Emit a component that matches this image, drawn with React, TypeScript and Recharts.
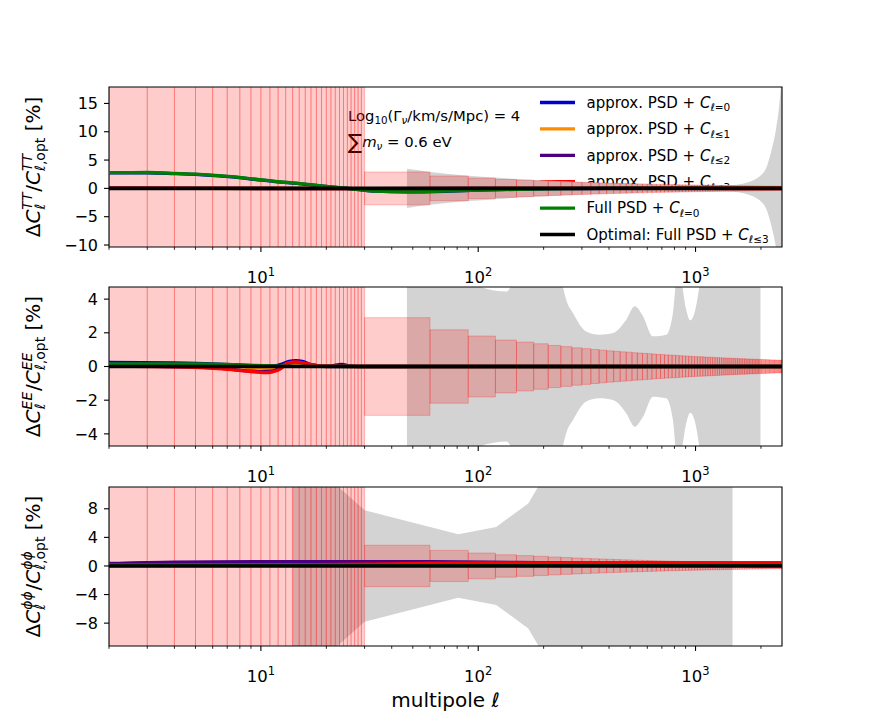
import React from 'react';
import { ComposedChart, Line, Area, XAxis, YAxis, ReferenceArea } from 'recharts';

const FONT = "'DejaVu Sans', sans-serif";
const W = 869;
const H = 726;

// ---------- axis data ----------
const X_DOMAIN: [number, number] = [2, 2500];
const majorTicks = [10, 100, 1000];
const minorTicks = [2, 3, 4, 5, 6, 7, 8, 9, 20, 30, 40, 50, 60, 70, 80, 90, 200, 300, 400, 500, 600, 700, 800, 900, 2000];
const xTicks = [...minorTicks, ...majorTicks].sort((a, b) => a - b);

// ---------- error boxes ----------
const lowEll = [2, 3, 4, 5, 6, 7, 8, 9, 10, 11, 12, 13, 14, 15, 16, 17, 18, 19, 20, 21, 22, 23, 24, 25, 26, 27, 28, 29];
const LOW_HALF = 100; // off-chart error for each low multipole
const binStart = 30;
const binWidth = 30;
const binHalf = [
  2.9, 2.18, 1.81, 1.57, 1.45, 1.35, 1.25, 1.18, 1.11, 1.06,
  1.01, 0.97, 0.93, 0.9, 0.87, 0.85, 0.82, 0.8, 0.78, 0.76,
  0.74, 0.72, 0.71, 0.69, 0.68, 0.67, 0.66, 0.64, 0.63, 0.62,
  0.61, 0.6, 0.59, 0.58, 0.58, 0.57, 0.56, 0.55, 0.55, 0.54,
  0.53, 0.53, 0.52, 0.51, 0.51, 0.5, 0.5, 0.49, 0.49, 0.48,
  0.48, 0.47, 0.47, 0.46, 0.46, 0.46, 0.45, 0.45, 0.44, 0.44,
  0.44, 0.43, 0.43, 0.43, 0.42, 0.42, 0.42, 0.41, 0.41, 0.41,
  0.4, 0.4, 0.4, 0.39, 0.39, 0.39, 0.39, 0.38, 0.38, 0.38,
  0.38, 0.38, 0.37,
];

// ---------- grey noise bands [ell, half-width %] ----------
const ttNoise: [number, number][] = [
  [47, 3.45], [60, 2.9], [90, 2.25], [120, 1.9], [150, 1.65], [200, 1.38], [300, 1.1], [400, 0.92],
  [500, 0.8], [700, 0.66], [1000, 0.56], [1300, 0.52], [1500, 0.6], [1700, 0.95], [1900, 1.7],
  [2000, 2.3], [2110, 3.5], [2230, 6.5], [2350, 10.6], [2430, 14.8], [2480, 19], [2520, 24],
];
const eeNoise: [number, number][] = [
  [47, 30], [80, 12], [100, 4.78], [135, 4.45], [142, 4.78], [160, 6], [190, 9], [225, 8], [243, 5],
  [254, 3.97], [273, 3.18], [314, 2.08], [362, 1.89], [417, 1.99], [480, 2.78], [525, 3.57],
  [573, 2.98], [637, 1.79], [733, 1.89], [787, 3.18], [815, 5.2], [837, 6], [859, 5.2], [906, 3.37],
  [946, 2.74], [989, 3.18], [1051, 5.2], [1120, 9], [1990, 10],
];
const ppNoise: [number, number][] = [
  [14, 13.5], [22.3, 11.3], [30, 7.8], [81, 4.45], [121, 5.46], [170, 8.74], [200, 12.4], [1480, 20],
];

// ---------- curves [ell, Delta %] ----------
const ttBlue: [number, number][] = [[2, 2.72], [3, 2.76], [4, 2.62], [5, 2.47], [6.4, 2.2], [8.7, 1.73], [12, 1.13], [16, 0.72], [21, 0.25], [28, -0.22], [33.5, -0.5], [47, -0.62], [70, -0.52], [100, -0.32], [150, -0.16], [250, -0.06], [400, 0], [2500, 0]];
const ttOrange: [number, number][] = [[2, 0.05], [30, -0.05], [300, 0], [1000, 0.05], [2500, 0.1]];
const ttPurple: [number, number][] = [[2, 0.03], [30, -0.04], [300, 0], [2500, 0]];
const ttRed: [number, number][] = [[2, 0.02], [30, -0.03], [300, 0], [1000, 0.03], [2500, 0.08]];
const ttGreen: [number, number][] = [[2, 2.77], [3, 2.8], [4, 2.66], [5, 2.5], [6.4, 2.24], [8.7, 1.77], [12, 1.17], [16, 0.76], [21, 0.28], [28, -0.18], [33.5, -0.48], [47, -0.6], [70, -0.5], [100, -0.3], [150, -0.15], [250, -0.05], [400, 0], [2500, 0]];

const eeBlue: [number, number][] = [[2, 0.24], [4, 0.21], [6, 0.16], [8, 0.09], [10, 0.04], [11.5, 0.04], [12.5, 0.15], [13.5, 0.3], [14.5, 0.35], [15.5, 0.3], [17, 0.12], [19, 0.03], [21, 0.04], [23.5, 0.12], [26, 0.03], [30, 0], [2500, 0]];
const eeOrange: [number, number][] = [[2, 0.1], [8, 0], [10, -0.15], [12, -0.05], [14, 0.2], [17, 0.05], [30, 0], [2500, 0]];
const eePurple: [number, number][] = [[2, 0.05], [6, -0.08], [10, -0.3], [11.2, -0.28], [12.3, -0.1], [13.5, 0.2], [14.5, 0.27], [17, 0.1], [20, 0], [2500, 0]];
const eeRed: [number, number][] = [[2, 0.02], [4.6, -0.04], [6.6, -0.14], [8.4, -0.26], [9.7, -0.33], [10.5, -0.36], [11.2, -0.33], [12.3, -0.14], [13.1, 0.17], [14.3, 0.27], [16.5, 0.16], [19, 0.02], [30, 0], [2500, 0]];
const eeGreen: [number, number][] = [[2, 0.16], [5, 0.15], [8, 0.1], [11, 0.04], [15, 0.01], [30, 0], [2500, 0]];

const ppBlue: [number, number][] = [[2, 0.3], [3, 0.42], [5, 0.48], [10, 0.5], [30, 0.5], [60, 0.5], [100, 0.46], [200, 0.4], [500, 0.38], [2500, 0.38]];
const ppOrange: [number, number][] = [[2, 0.1], [10, 0.15], [30, 0.28], [60, 0.38], [100, 0.42], [2500, 0.42]];
const ppPurple: [number, number][] = [[2, 0.35], [4, 0.55], [10, 0.6], [60, 0.6], [150, 0.5], [300, 0.42], [2500, 0.4]];
const ppRed: [number, number][] = [[2, 0.05], [10, 0.1], [30, 0.25], [60, 0.38], [100, 0.42], [2500, 0.42]];
const ppGreen: [number, number][] = [[2, 0.15], [10, 0.15], [100, 0.12], [2500, 0.08]];

const optimal: [number, number][] = [[2, 0], [2500, 0]];

const COLORS = {
  blue: '#0000cd',
  orange: '#ff8c00',
  purple: '#4b0082',
  red: '#ff0000',
  green: '#008000',
  black: '#000000',
};

const legendItems = [
  { color: COLORS.blue, prefix: 'approx. PSD + ', sub: '=0' },
  { color: COLORS.orange, prefix: 'approx. PSD + ', sub: '\u22641' },
  { color: COLORS.purple, prefix: 'approx. PSD + ', sub: '\u22642' },
  { color: COLORS.red, prefix: 'approx. PSD + ', sub: '\u22643' },
  { color: COLORS.green, prefix: 'Full PSD + ', sub: '=0' },
  { color: COLORS.black, prefix: 'Optimal: Full PSD + ', sub: '\u22643' },
];

type Cfg = {
  plotTop: number;
  plotBottom: number;
  domain: [number, number];
  ticks: number[];
  noise: [number, number][];
  noiseType: 'monotone' | 'linear';
  lines: { color: string; pts: [number, number][]; w: number }[];
};

const LW = 3.3;
const BW = 3.6;

const panels: Cfg[] = [
  {
    plotTop: 87, plotBottom: 247, domain: [-10.35, 17.9], ticks: [-10, -5, 0, 5, 10, 15],
    noise: ttNoise, noiseType: 'monotone',
    lines: [
      { color: COLORS.blue, pts: ttBlue, w: LW },
      { color: COLORS.orange, pts: ttOrange, w: LW },
      { color: COLORS.purple, pts: ttPurple, w: LW },
      { color: COLORS.red, pts: ttRed, w: LW },
      { color: COLORS.green, pts: ttGreen, w: LW },
      { color: COLORS.black, pts: optimal, w: BW },
    ],
  },
  {
    plotTop: 287, plotBottom: 446, domain: [-4.72, 4.72], ticks: [-4, -2, 0, 2, 4],
    noise: eeNoise, noiseType: 'monotone',
    lines: [
      { color: COLORS.blue, pts: eeBlue, w: LW },
      { color: COLORS.orange, pts: eeOrange, w: LW },
      { color: COLORS.purple, pts: eePurple, w: LW },
      { color: COLORS.red, pts: eeRed, w: LW },
      { color: COLORS.green, pts: eeGreen, w: LW },
      { color: COLORS.black, pts: optimal, w: BW },
    ],
  },
  {
    plotTop: 487, plotBottom: 646, domain: [-11.2, 11.05], ticks: [-8, -4, 0, 4, 8],
    noise: ppNoise, noiseType: 'linear',
    lines: [
      { color: COLORS.blue, pts: ppBlue, w: LW },
      { color: COLORS.orange, pts: ppOrange, w: LW },
      { color: COLORS.purple, pts: ppPurple, w: LW },
      { color: COLORS.red, pts: ppRed, w: LW },
      { color: COLORS.green, pts: ppGreen, w: LW },
      { color: COLORS.black, pts: optimal, w: BW },
    ],
  },
];

const fmt = (v: number) => (v < 0 ? '\u2212' + Math.abs(v) : String(v));

const XTick = (props: any) => {
  const { x, y, payload } = props;
  const v = payload.value;
  const isMajor = majorTicks.indexOf(v) >= 0;
  return (
    <g>
      <line x1={x} x2={x} y1={y} y2={y + (isMajor ? 4.9 : 2.8)} stroke="#000" strokeWidth={isMajor ? 1.1 : 0.85} />
      {isMajor && (
        <text x={x} y={y + 35.5} textAnchor="middle" fontFamily={FONT} fontSize={16.5} fill="#000">
          10<tspan fontSize={11.5} dy={-7}>{Math.round(Math.log10(v))}</tspan>
        </text>
      )}
    </g>
  );
};

function Panel({ cfg }: { cfg: Cfg }) {
  const boxes: { x1: number; x2: number; h: number }[] = [];
  lowEll.forEach((l) => boxes.push({ x1: l, x2: l + 1, h: LOW_HALF }));
  binHalf.forEach((h, i) => boxes.push({ x1: binStart + i * binWidth, x2: binStart + (i + 1) * binWidth, h }));
  const noiseData = cfg.noise.map(([l, s]) => ({ l, s }));
  return (
    <div style={{ position: 'absolute', left: 0, top: 0 }}>
      <ComposedChart width={W} height={H} margin={{ top: cfg.plotTop, right: 87, bottom: 0, left: 0 }}>
        <XAxis
          dataKey="l" type="number" scale="log" domain={X_DOMAIN} allowDataOverflow
          ticks={xTicks} interval={0} tick={(p: any) => <XTick {...p} />}
          tickLine={false} axisLine={false} tickSize={0} tickMargin={0}
          height={H - cfg.plotBottom}
        />
        <YAxis
          type="number" domain={cfg.domain} allowDataOverflow ticks={cfg.ticks} interval={0}
          width={109} axisLine={false} tickLine={{ stroke: '#000', strokeWidth: 1.1 }}
          tickSize={5} tickMargin={6} tick={{ fill: '#000', fontSize: 16, fontFamily: FONT }}
          tickFormatter={fmt}
        />
        <Area
          data={noiseData} dataKey={(d: any) => [-d.s, d.s]} type={cfg.noiseType}
          fill="#d3d3d3" fillOpacity={1} stroke="none" isAnimationActive={false}
        />
        {boxes.map((b, i) => (
          <ReferenceArea
            key={'b' + i} x1={b.x1} x2={b.x2} y1={-b.h} y2={b.h} ifOverflow="hidden"
            fill="#ff0000" fillOpacity={0.2} stroke="#ff0000" strokeOpacity={0.3} strokeWidth={0.8}
          />
        ))}
        {cfg.lines.map((ln, i) => (
          <Line
            key={'l' + i} data={ln.pts.map(([l, v]) => ({ l, v }))} dataKey="v" type="monotone"
            stroke={ln.color} strokeWidth={ln.w} dot={false} isAnimationActive={false}
          />
        ))}
        <ReferenceArea
          x1={X_DOMAIN[0]} x2={X_DOMAIN[1]} y1={cfg.domain[0]} y2={cfg.domain[1]} ifOverflow="visible"
          fill="none" stroke="#000" strokeWidth={1.1}
        />
      </ComposedChart>
    </div>
  );
}

function YLabel({ cy, sup, supW }: { cy: number; sup: string; supW: number }) {
  const f = 14;
  const ellW = 6;
  return (
    <text transform={`translate(40,${cy}) rotate(-90)`} textAnchor="middle" fontFamily={FONT} fontSize={20} fill="#000">
      <tspan>Δ</tspan>
      <tspan fontStyle="italic">C</tspan>
      <tspan fontSize={f} fontStyle="italic" dy={-8}>{sup}</tspan>
      <tspan fontSize={f} fontStyle="italic" dx={-supW} dy={13}>ℓ</tspan>
      <tspan dx={supW - ellW + 1} dy={-5}>/</tspan>
      <tspan fontStyle="italic">C</tspan>
      <tspan fontSize={f} fontStyle="italic" dy={-8}>{sup}</tspan>
      <tspan fontSize={f} fontStyle="italic" dx={-supW} dy={13}>ℓ</tspan>
      <tspan fontSize={f}>,opt</tspan>
      <tspan dy={-5}>{' [%]'}</tspan>
    </text>
  );
}

function Overlay() {
  return (
    <svg width={W} height={H} style={{ position: 'absolute', left: 0, top: 0 }}>
      <YLabel cy={167} sup="TT" supW={17} />
      <YLabel cy={366.5} sup="EE" supW={17.5} />
      <YLabel cy={566.5} sup="ϕϕ" supW={18.5} />
      <text x={445.5} y={707} textAnchor="middle" fontFamily={FONT} fontSize={20} fill="#000">
        multipole<tspan fontStyle="italic">{' ℓ'}</tspan>
      </text>
      {legendItems.map((it, i) => {
        const y = 102.5 + i * 26.4;
        return (
          <g key={i}>
            <line x1={540} x2={575} y1={y} y2={y} stroke={it.color} strokeWidth={3.3} />
            <text x={586.5} y={y + 5.3} fontFamily={FONT} fontSize={15} fill="#000">
              {it.prefix}
              <tspan fontStyle="italic">C</tspan>
              <tspan fontSize={10.5} fontStyle="italic" dy={3.5}>ℓ</tspan>
              <tspan fontSize={10.5}>{it.sub}</tspan>
            </text>
          </g>
        );
      })}
      <text x={348} y={120.7} fontFamily={FONT} fontSize={14.8} fill="#000">
        Log<tspan fontSize={10.3} dy={3}>10</tspan>
        <tspan dy={-3}>(Γ</tspan>
        <tspan fontSize={10.3} fontStyle="italic" dy={3}>ν</tspan>
        <tspan dy={-3}>/km/s/Mpc) = 4</tspan>
      </text>
      <text x={348} y={147} fontFamily={FONT} fontSize={14.8} fill="#000">
        <tspan fontSize={21} dy={2}>∑</tspan>
        <tspan fontStyle="italic" dy={-2}>m</tspan>
        <tspan fontSize={10.3} fontStyle="italic" dy={3}>ν</tspan>
        <tspan dy={-3}>{' = 0.6 eV'}</tspan>
      </text>
    </svg>
  );
}

export default function App() {
  return (
    <div style={{ position: 'absolute', left: 0, top: 0, width: W, height: H, background: '#fff', overflow: 'hidden' }}>
      <Overlay />
      {panels.map((p, i) => (
        <Panel key={i} cfg={p} />
      ))}
    </div>
  );
}
